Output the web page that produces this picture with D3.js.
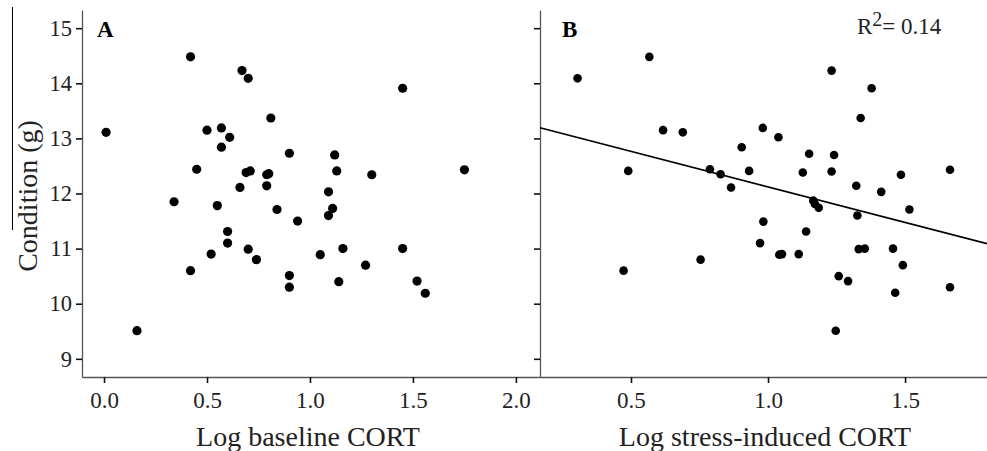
<!DOCTYPE html>
<html>
<head>
<meta charset="utf-8">
<script src="https://cdn.jsdelivr.net/npm/d3@7/dist/d3.min.js"></script>
<style>
  body { margin: 0; background: #fff; }
  svg { display: block; font-family: "Liberation Serif", "Times New Roman", serif; }
</style>
</head>
<body>
<div id="chart"></div>
<script>
// panel A: log baseline CORT vs condition
const baseCort = [0.01, 0.42, 0.67, 0.70, 0.81, 0.50, 0.57, 0.61, 0.57, 0.90, 0.45, 0.69, 0.71, 0.79, 0.80,
    0.66, 0.79, 0.34, 0.55, 0.84, 0.94, 0.60, 0.60, 0.52, 0.70, 0.74, 0.42, 0.90, 0.90, 0.16,
    1.45, 1.12, 1.13, 1.30, 1.75, 1.09, 1.11, 1.09, 1.05, 1.16, 1.27, 1.45, 1.14, 1.52, 1.56];
const baseCond = [13.11, 14.48, 14.23, 14.09, 13.37, 13.15, 13.19, 13.02, 12.84, 12.73, 12.44, 12.38, 12.41, 12.34, 12.36,
    12.11, 12.14, 11.85, 11.78, 11.71, 11.50, 11.31, 11.10, 10.90, 10.99, 10.80, 10.60, 10.51, 10.30, 9.51,
    13.91, 12.70, 12.41, 12.34, 12.43, 12.03, 11.73, 11.60, 10.89, 11.00, 10.70, 11.00, 10.40, 10.41, 10.19];

// panel B: log stress-induced CORT vs condition
const stressCort = [0.305, 0.567, 0.617, 0.689, 0.490, 0.788, 0.827, 0.865, 0.904, 0.931, 0.981, 1.038, 0.983, 0.971, 1.041,
    0.754, 0.473, 1.232, 1.378, 1.338, 1.150, 1.241, 1.127, 1.232, 1.485, 1.664, 1.322, 1.413, 1.165, 1.171,
    1.185, 1.139, 1.326, 1.516, 1.051, 1.112, 1.331, 1.353, 1.456, 1.492, 1.258, 1.292, 1.464, 1.664, 1.247];
const stressCond = [14.09, 14.48, 13.15, 13.11, 12.41, 12.44, 12.35, 12.11, 12.84, 12.41, 13.19, 13.02, 11.49, 11.10, 10.89,
    10.80, 10.60, 14.23, 13.91, 13.37, 12.72, 12.70, 12.38, 12.40, 12.34, 12.43, 12.14, 12.03, 11.87, 11.81,
    11.74, 11.31, 11.60, 11.71, 10.90, 10.90, 10.99, 11.00, 11.00, 10.70, 10.50, 10.41, 10.20, 10.30, 9.51];

const fitB = { intercept: 13.41, slope: -1.29 };
const r2Label = "0.14";

const yTicks = [9, 10, 11, 12, 13, 14, 15];
const xTicksA = [0, 0.5, 1.0, 1.5, 2.0];
const xTicksB = [0.5, 1.0, 1.5];

const width = 987, height = 451;
const svg = d3.select("#chart").append("svg")
    .attr("width", width)
    .attr("height", height);

// shared y scale
const y = d3.scaleLinear().domain([8.67, 15.33]).range([377, 10]);
const xA = d3.scaleLinear().domain([-0.107, 2.117]).range([82, 540]);
const xB = d3.scaleLinear().domain([0.168, 1.799]).range([540, 987]);

function styleAxis(g, size) {
    g.attr("font-family", null).attr("font-size", null);
    g.select(".domain").attr("stroke", "#555").attr("stroke-width", 1.3);
    g.selectAll(".tick line").attr("stroke", "#111").attr("stroke-width", 1.6);
    g.selectAll(".tick text").attr("fill", "#222").style("font-size", size + "px");
}

// ---- axes ----
svg.append("g")
    .attr("transform", "translate(0,377)")
    .call(d3.axisBottom(xA).tickValues(xTicksA).tickFormat(d3.format(".1f"))
        .tickSize(6).tickSizeOuter(0).tickPadding(9))
    .call(styleAxis, 23);

svg.append("g")
    .attr("transform", "translate(0,377)")
    .call(d3.axisBottom(xB).tickValues(xTicksB).tickFormat(d3.format(".1f"))
        .tickSize(6).tickSizeOuter(0).tickPadding(9))
    .call(styleAxis, 23);

svg.append("g")
    .attr("transform", "translate(82,0)")
    .call(d3.axisLeft(y).tickValues(yTicks).tickFormat(d3.format("d"))
        .tickSize(6).tickSizeOuter(0).tickPadding(4))
    .call(styleAxis, 22.5);

svg.append("g")
    .attr("transform", "translate(540,0)")
    .call(d3.axisLeft(y).tickValues(yTicks).tickFormat("").tickSize(6).tickSizeOuter(0))
    .call(styleAxis, 22);

// ---- regression line in B ----
const [bx0, bx1] = xB.domain();
svg.append("line")
    .attr("x1", xB(bx0)).attr("y1", y(fitB.intercept + fitB.slope * bx0))
    .attr("x2", xB(bx1)).attr("y2", y(fitB.intercept + fitB.slope * bx1))
    .attr("stroke", "#000")
    .attr("stroke-width", 1.6);

// ---- points ----
svg.append("g").selectAll("circle")
    .data(d3.zip(baseCort, baseCond))
    .join("circle")
    .attr("cx", d => xA(d[0]))
    .attr("cy", d => y(d[1]))
    .attr("r", 4.6)
    .attr("fill", "#000");

svg.append("g").selectAll("circle")
    .data(d3.zip(stressCort, stressCond))
    .join("circle")
    .attr("cx", d => xB(d[0]))
    .attr("cy", d => y(d[1]))
    .attr("r", 4.3)
    .attr("fill", "#000");

// ---- panel letters ----
svg.append("text").attr("x", 97).attr("y", 37)
    .style("font-size", "23px").style("font-weight", "bold").text("A");
svg.append("text").attr("x", 562).attr("y", 37)
    .style("font-size", "23px").style("font-weight", "bold").text("B");

// R^2 label
const r2 = svg.append("text").attr("x", 857).attr("y", 34)
    .style("font-size", "23px").attr("fill", "#222");
r2.append("tspan").text("R");
r2.append("tspan").attr("dy", -8).style("font-size", "20px").text("2");
r2.append("tspan").attr("dy", 8).text("= " + r2Label);

// ---- axis titles ----
svg.append("text")
    .attr("x", 308).attr("y", 446)
    .attr("text-anchor", "middle")
    .style("font-size", "28px").attr("fill", "#222")
    .text("Log baseline CORT");

svg.append("text")
    .attr("x", 765).attr("y", 446)
    .attr("text-anchor", "middle")
    .style("font-size", "28px").attr("fill", "#222")
    .text("Log stress-induced CORT");

svg.append("text")
    .attr("transform", "translate(37,196) rotate(-90)")
    .attr("text-anchor", "middle")
    .style("font-size", "28px").attr("fill", "#222")
    .text("Condition (g)");

// stray rule at far left of the original figure
svg.append("line")
    .attr("x1", 12.5).attr("x2", 12.5)
    .attr("y1", 7).attr("y2", 230)
    .attr("stroke", "#000").attr("stroke-width", 1);
</script>
</body>
</html>
